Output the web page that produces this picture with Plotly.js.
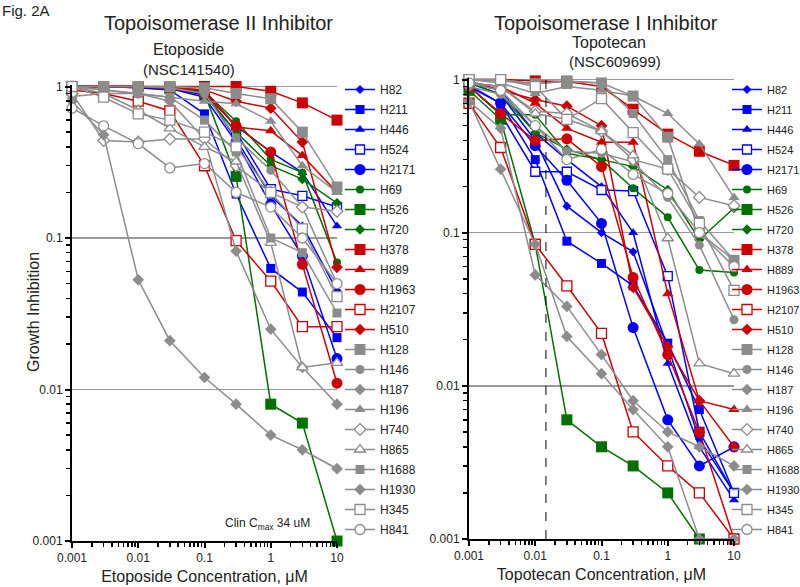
<!DOCTYPE html>
<html><head><meta charset="utf-8">
<script src="https://cdn.plot.ly/plotly-3.0.1.min.js"></script>
<style>html,body{margin:0;padding:0;background:#fff}#chart{width:800px;height:587px}</style>
</head><body><div id="chart"></div>
<script>
// ---- data ----
const conc = [0.001, 0.003, 0.01, 0.03, 0.1, 0.3, 1, 3, 10];
const cellLines = ["H82","H211","H446","H524","H2171","H69","H526","H720","H378","H889","H1963","H2107","H510","H128","H146","H187","H196","H740","H865","H1688","H1930","H345","H841"];

// Etoposide growth inhibition
const E_H82   = [1,1,0.98,0.96,0.92,0.45,0.19,0.12,0.045];
const E_H211  = [1,1,0.98,0.95,0.66,0.195,0.063,0.044,0.022];
const E_H446  = [1,1,1,0.98,0.92,0.55,0.37,0.27,0.12];
const E_H524  = [1,1,1,0.97,0.88,0.5,0.21,0.19,0.16];
const E_H2171 = [1,1,1,0.97,0.85,0.43,0.167,0.076,0.016];
const E_H69   = [1,1,1,0.97,0.92,0.59,0.33,0.27,0.069];
const E_H526  = [1,1,1,0.97,0.9,0.255,0.008,0.006,0.001];
const E_H720  = [1,1,1,0.97,0.9,0.5,0.3,0.245,0.17];
const E_H378  = [1,1,1,1,1,1,0.93,0.78,0.6];
const E_H889  = [1,1,1,0.98,0.95,0.54,0.51,0.35,0.2];
const E_H1963 = [1,1,1,0.97,0.9,0.55,0.37,0.067,0.011];
const E_H2107 = [0.95,0.9,0.8,0.69,0.3,0.096,0.052,0.026,0.026];
const E_H510  = [1,1,1,0.98,0.95,0.8,0.72,0.43,0.064];
const E_H128  = [1,1,1,1,0.98,0.9,0.83,0.5,0.217];
const E_H146  = [1,1,1,0.98,0.9,0.46,0.28,0.16,0.05];
const E_H187  = [1,0.95,0.9,0.8,0.45,0.082,0.025,0.014,0.008];
const E_H196  = [0.86,0.9,0.9,0.85,0.8,0.77,0.59,0.3,0.2];
const E_H740  = [0.9,0.44,0.43,0.45,0.45,0.3,0.2,0.16,0.15];
const E_H865  = [1,0.9,0.7,0.53,0.4,0.32,0.093,0.014,0.015];
const E_H1688 = [1,0.95,0.9,0.85,0.6,0.37,0.1,0.08,0.032];
const E_H1930 = [0.8,0.48,0.053,0.021,0.012,0.008,0.005,0.004,0.003];
const E_H345  = [1,0.85,0.66,0.6,0.5,0.4,0.2,0.115,0.041];
const E_H841  = [0.72,0.55,0.42,0.29,0.31,0.2,0.16,0.1,0.05];

// Topotecan growth inhibition
const T_H82   = [0.95,0.8,0.4,0.149,0.1,0.075,0.018,0.0045,0.002];
const T_H211  = [0.9,0.7,0.3,0.088,0.063,0.045,0.019,0.007,0.002];
const T_H446  = [0.95,0.85,0.45,0.3,0.2,0.1,0.014,0.004,0.0018];
const T_H524  = [0.9,0.6,0.25,0.25,0.19,0.187,0.052,0.005,0.002];
const T_H2171 = [0.92,0.7,0.37,0.22,0.115,0.024,0.006,0.003,0.004];
const T_H69   = [0.9,0.59,0.59,0.33,0.3,0.195,0.126,0.057,0.055];
const T_H526  = [0.85,0.55,0.084,0.006,0.004,0.003,0.002,0.001,null];
const T_H720  = [0.95,0.8,0.45,0.35,0.3,0.27,0.19,0.09,0.145];
const T_H378  = [1,1,0.98,0.97,0.9,0.64,0.44,0.34,0.275];
const T_H889  = [0.95,0.9,0.7,0.48,0.39,0.39,0.04,0.008,0.007];
const T_H1963 = [0.9,0.6,0.4,0.41,0.27,0.051,0.016,0.005,0.001];
const T_H2107 = [0.7,0.36,0.084,0.045,0.022,0.005,0.003,0.002,0.001];
const T_H510  = [0.98,0.85,0.74,0.67,0.5,0.044,0.018,0.008,0.004];
const T_H128  = [1,1,0.94,0.98,0.95,0.78,0.42,0.1,0.066];
const T_H146  = [0.9,0.8,0.5,0.34,0.33,0.29,0.17,0.083,0.027];
const T_H187  = [0.72,0.48,0.053,0.033,0.016,0.008,0.005,0.004,0.003];
const T_H196  = [1,0.95,0.81,0.9,0.85,0.78,0.6,0.38,0.17];
const T_H740  = [0.95,0.9,0.62,0.6,0.46,0.3,0.26,0.17,0.15];
const T_H865  = [0.95,0.9,0.6,0.55,0.46,0.32,0.092,0.014,0.012];
const T_H1688 = [1,0.98,0.94,0.97,0.95,0.6,0.3,0.12,0.066];
const T_H1930 = [0.72,0.26,0.084,0.021,0.012,0.007,0.004,0.001,0.001];
const T_H345  = [1,1,0.9,0.55,0.75,0.45,0.26,0.115,0.042];
const T_H841  = [0.95,0.85,0.5,0.3,0.35,0.24,0.18,0.1,0.06];

const etoposide = [E_H82,E_H211,E_H446,E_H524,E_H2171,E_H69,E_H526,E_H720,E_H378,E_H889,E_H1963,E_H2107,E_H510,E_H128,E_H146,E_H187,E_H196,E_H740,E_H865,E_H1688,E_H1930,E_H345,E_H841];
const topotecan = [T_H82,T_H211,T_H446,T_H524,T_H2171,T_H69,T_H526,T_H720,T_H378,T_H889,T_H1963,T_H2107,T_H510,T_H128,T_H146,T_H187,T_H196,T_H740,T_H865,T_H1688,T_H1930,T_H345,T_H841];

// ---- styles ----
const BLUE = '#0000ff', GREEN = '#007000', RED = '#cc0000', GRAY = '#8c8c8c';
const styles = [
  [BLUE,'diamond',7,false],[BLUE,'square',9,false],[BLUE,'triangle-up',9,false],[BLUE,'square',9,true],[BLUE,'circle',11,false],
  [GREEN,'circle',8,false],[GREEN,'square',11,false],[GREEN,'diamond',8,false],
  [RED,'square',11,false],[RED,'triangle-up',10,false],[RED,'circle',11,false],[RED,'square',10,true],[RED,'diamond',9,false],
  [GRAY,'square',11,false],[GRAY,'circle',9,false],[GRAY,'diamond',9,false],[GRAY,'triangle-up',10,false],[GRAY,'diamond',9,true],
  [GRAY,'triangle-up',10,true],[GRAY,'square',9,false],[GRAY,'diamond',9,false],[GRAY,'square',10,true],[GRAY,'circle',10,true]
];

const traces = [];
function addPanel(values, xa, ya, leg, prefix) {
  values.forEach((vals, i) => {
    const [c, sym, sz, open] = styles[i];
    traces.push({
      type: 'scatter', mode: 'lines+markers', x: conc, y: vals, name: cellLines[i],
      xaxis: xa, yaxis: ya, legend: leg, legendgroup: prefix + cellLines[i], cliponaxis: false,
      line: {color: c, width: 1.5},
      marker: {symbol: sym, size: sz, color: open ? '#ffffff' : c, line: {color: c, width: open ? 1.3 : 0}}
    });
  });
}
addPanel(etoposide, 'x', 'y', 'legend', 'eto_');
addPanel(topotecan, 'x2', 'y2', 'legend2', 'topo_');

const minorVals = [];
[0.001, 0.01, 0.1, 1].forEach(d => { for (let k = 2; k <= 9; k++) minorVals.push(d * k); });

const sans = 'Liberation Sans, Arial, sans-serif';
const X_RANGE = [-3, 1], Y_RANGE = [-3, 0.01];
const X_TICKS = [0.001, 0.01, 0.1, 1, 10], Y_TICKS = [0.001, 0.01, 0.1, 1];
function xAxis(domain, anchor, title) {
  return {
    type: 'log', domain: domain, anchor: anchor, range: X_RANGE, automargin: false,
    showline: true, linecolor: '#000', linewidth: 2, mirror: false, showgrid: false, zeroline: false,
    ticks: 'outside', ticklen: 5, tickwidth: 2, tickcolor: '#000',
    tickmode: 'array', tickvals: X_TICKS, ticktext: ['0.001','0.01','0.1','1','10'],
    tickfont: {family: sans, size: 12, color: '#222'},
    minor: {tickmode: 'array', tickvals: minorVals, ticks: 'outside', ticklen: 4, tickwidth: 1.5, tickcolor: '#000', showgrid: false},
    title: {text: title, font: {family: sans, size: 16, color: '#222'}, standoff: 6}
  };
}
function yAxis(domain, anchor) {
  return {
    type: 'log', domain: domain, anchor: anchor, range: Y_RANGE, automargin: false,
    showline: true, linecolor: '#000', linewidth: 2, showgrid: true, gridcolor: '#9a9a9a', gridwidth: 1.5, zeroline: false,
    ticks: 'outside', ticklen: 5, tickwidth: 2, tickcolor: '#000',
    tickmode: 'array', tickvals: Y_TICKS, ticktext: ['0.001','0.01','0.1','1'],
    tickfont: {family: sans, size: 12, color: '#222'},
    minor: {tickmode: 'array', tickvals: minorVals, ticks: 'outside', ticklen: 4, tickwidth: 1.5, tickcolor: '#000', showgrid: false}
  };
}
// overlay axes that add the inner half of the crossing tick marks
function innerTicks(over, anchor, range, vals, side) {
  return {
    type: 'log', overlaying: over, anchor: anchor, side: side, range: range, automargin: false,
    showline: false, showgrid: false, zeroline: false, showticklabels: false,
    ticks: 'inside', ticklen: 4, tickwidth: 2, tickcolor: '#000', tickmode: 'array', tickvals: vals,
    minor: {tickmode: 'array', tickvals: minorVals, ticks: 'inside', ticklen: 3, tickwidth: 1.5, tickcolor: '#000', showgrid: false}
  };
}

const W = 800, H = 587;
function note(text, px, py, size, anchor, angle) {
  return {text: text, x: px / W, y: 1 - py / H, xref: 'paper', yref: 'paper', xanchor: anchor || 'center', yanchor: 'middle',
          showarrow: false, textangle: angle || 0, font: {family: sans, size: size, color: '#222'}};
}
const layout = {
  width: W, height: H, margin: {l: 0, r: 0, t: 0, b: 0, autoexpand: false},
  paper_bgcolor: '#fff', plot_bgcolor: 'rgba(0,0,0,0)', showlegend: true,
  xaxis: xAxis([72/W, 337/W], 'y', 'Etoposide Concentration, \u03bcM'),
  yaxis: yAxis([1 - 541/H, 1 - 85/H], 'x'),
  xaxis2: xAxis([469/W, 734/W], 'y2', 'Topotecan Concentration, \u03bcM'),
  yaxis2: yAxis([1 - 539/H, 1 - 78/H], 'x2'),
  xaxis3: innerTicks('x', 'y', X_RANGE, X_TICKS, 'bottom'),
  yaxis3: innerTicks('y', 'x', Y_RANGE, Y_TICKS, 'left'),
  xaxis4: innerTicks('x2', 'y2', X_RANGE, X_TICKS, 'bottom'),
  yaxis4: innerTicks('y2', 'x2', Y_RANGE, Y_TICKS, 'left'),
  legend: {x: 340/W, y: 1 - 75/H, xanchor: 'left', yanchor: 'top', bgcolor: 'rgba(0,0,0,0)', traceorder: 'grouped',
           font: {family: sans, size: 12, color: '#222'}, tracegroupgap: 1},
  legend2: {x: 727/W, y: 1 - 75/H, xanchor: 'left', yanchor: 'top', bgcolor: 'rgba(0,0,0,0)', traceorder: 'grouped',
           font: {family: sans, size: 11, color: '#222'}, tracegroupgap: 1},
  shapes: [{type: 'line', xref: 'x2', yref: 'y2 domain', x0: 0.0145, x1: 0.0145, y0: 0, y1: 1.015,
            line: {color: '#000', width: 1, dash: 'dash'}}],
  annotations: [
    note('Fig. 2A', 0, 10, 15, 'left'),
    note('Topoisomerase II Inhibitor', 218, 23, 20),
    note('Etoposide', 188, 50, 16),
    note('(NSC141540)', 189, 70, 15),
    note('Topoisomerase I Inhibitor', 606, 23, 20),
    note('Topotecan', 609, 43, 16),
    note('(NSC609699)', 615, 62, 15),
    note('Growth Inhibition', 33, 312, 16, 'center', -90),
    note('Clin C<sub>max</sub> 34 uM', 312, 524, 12, 'right')
  ]
};

Plotly.newPlot('chart', traces, layout, {displayModeBar: false, staticPlot: true});
</script></body></html>
